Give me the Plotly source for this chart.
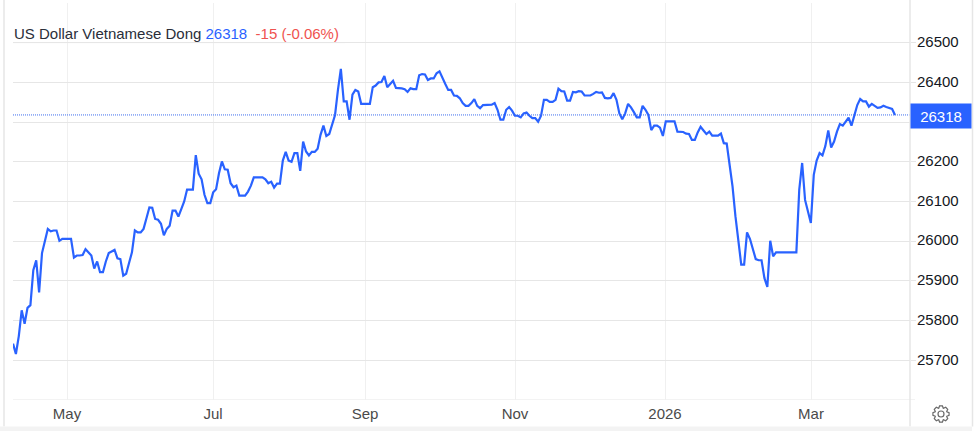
import math
import plotly.graph_objects as go

BLUE = "#2962FF"
title_text = "US Dollar Vietnamese Dong"
last_value = 26318
change_text = "-15 (-0.06%)"
y_ticks = [25700, 25800, 25900, 26000, 26100, 26200, 26300, 26400, 26500]
y_labels = [25700, 25800, 25900, 26000, 26100, 26200, None, 26400, 26500]
month_labels = ["May", "Jul", "Sep", "Nov", "2026", "Mar"]
month_frac = [54/897, 200/897, 352/897, 502/897, 652/897, 798/897]

values = [
 25742,25716,25761,25826,25792,25832,25839,25927,25952,25871,25970,26000,26031,26025,26027,26027,
 26001,26006,26006,26006,26006,25959,25964,25964,25965,25980,25972,25964,25931,25949,25922,25922,
 25949,25970,25974,25978,25957,25955,25913,25918,25945,25972,26027,26022,26022,26031,26058,26085,26084,
 26056,26054,26044,26015,26031,26039,26077,26077,26062,26081,26100,26130,26130,26130,26217,26170,
 26156,26117,26096,26096,26123,26131,26171,26201,26181,26180,26146,26136,26140,26115,26115,26115,
 26125,26140,26161,26161,26161,26161,26156,26146,26150,26135,26145,26145,26203,26225,26203,26200,
 26222,26222,26177,26251,26226,26216,26225,26225,26233,
 26268,26291,26265,26270,26297,26318,26381,26434,26352,26352,26306,26369,26381,26377,26346,26346,
 26346,26346,26388,26392,26400,26401,26416,26388,26396,26404,26386,26386,26385,26383,26376,26385,
 26383,26383,26418,26421,26420,26406,26410,26410,26423,26428,26410,26396,26381,26381,26367,26366,
 26360,26348,26341,26341,26348,26358,26341,26335,26343,26343,26343,26344,26348,26331,26306,26306,
 26331,26338,26329,26316,26316,26312,26322,26324,26316,26310,26310,26301,26316,26356,26356,26351,
 26351,26356,26384,26378,26377,26354,26354,26376,26375,26378,26377,26367,26367,26367,26371,26376,26374,
 26375,26361,26360,26361,26373,26356,26322,26307,26322,26346,26337,26325,26312,26312,26341,26331,
 26318,26280,
 26291,26291,26286,26265,26302,26302,26302,26302,26276,26276,26275,26271,26270,26255,26255,
 26274,26288,26279,26270,26276,26266,26266,26266,26271,26247,26246,26188,26138,26063,26004,
 25941,25941,26022,26006,25983,25955,25952,25952,25907,25885,26001,25962,25972,25972,25972,25972,
 25972,25972,25972,25972,26130,26197,26104,26075,26046,26167,26203,26222,26216,26240,26279,26236,
 26251,26276,26295,26291,26302,26311,26291,26314,26343,26358,26352,26352,26339,26346,26342,26336,
 26337,26341,26338,26336,26333,26318,
]
sessions = list(range(len(values)))

PLOT_L, PLOT_R, PLOT_T, PLOT_B = 13, 910, 3, 400
PW, PH = PLOT_R - PLOT_L, PLOT_B - PLOT_T
last_px = 895
x_max = (len(values) - 1) * PW / (last_px - PLOT_L)
month_ticks = [f * x_max for f in month_frac]


def gear_path(r_out=8.2, r_in=6.2, teeth=8):
    pts = []
    for i in range(teeth):
        a = 2 * math.pi * i / teeth
        w = math.pi / teeth
        for da, r in ((-w * 0.95, r_in), (-w * 0.45, r_out), (w * 0.45, r_out), (w * 0.95, r_in)):
            pts.append((r * math.cos(a + da), r * math.sin(a + da)))
    return "M" + " L".join(f"{x:.2f},{y:.2f}" for x, y in pts) + " Z"


fig = go.Figure()
fig.add_trace(go.Scatter(x=sessions, y=values, mode="lines",
                         line=dict(color=BLUE, width=2.2), hoverinfo="skip", showlegend=False))
fig.update_layout(
    width=975, height=431, autosize=False,
    margin=dict(l=PLOT_L, r=975 - PLOT_R, t=PLOT_T, b=431 - PLOT_B),
    paper_bgcolor="white", plot_bgcolor="white",
    font=dict(family="Liberation Sans, Arial, sans-serif", size=15, color="#131722"),
    xaxis=dict(range=[0, x_max], tickmode="array", tickvals=month_ticks, ticktext=month_labels,
               showgrid=True, gridcolor="#F0F0F0", gridwidth=1, zeroline=False, showline=False,
               ticks="", ticklabelstandoff=3, tickfont=dict(size=15, color="#4A4A4A")),
    yaxis=dict(range=[25600, 26600], side="right", tickmode="array", tickvals=y_ticks,
               ticktext=[str(v) if v else "" for v in y_labels],
               showgrid=True, gridcolor="#E6E6E6", gridwidth=1, zeroline=False, showline=False,
               ticks="outside", ticklen=5, tickcolor="#E6E6E6", ticklabelstandoff=-2, ticklabelshift=-1,
               tickfont=dict(size=15, color="#131722")),
    shapes=[
        dict(type="rect", xref="paper", x0=0, x1=(345 - PLOT_L) / PW, yref="paper", y0=(400 - 47) / PH, y1=(400 - 17) / PH,
             fillcolor="white", line=dict(width=0), layer="below"),
        dict(type="line", xref="paper", x0=0, x1=(345 - PLOT_L) / PW, yref="y", y0=26500, y1=26500,
             line=dict(color="#F3F3F3", width=1), layer="below"),
        dict(type="line", xref="paper", x0=0, x1=1, yref="y", y0=last_value, y1=last_value,
             line=dict(color="#3F6FEF", width=1, dash="1px,1px"), layer="above"),
        dict(type="line", xref="paper", x0=0, x1=(915 - PLOT_L) / PW, yref="y",
             y0=25600, y1=25600, line=dict(color="#E6E6E6", width=1), layer="below"),
        dict(type="line", xref="paper", x0=1, x1=1, yref="paper", y0=-26.5/PH, y1=1.01,
             line=dict(color="#E6E6E6", width=1.5)),
        dict(type="line", xref="paper", x0=-9/PW, x1=-9/PW, yref="paper", y0=-26.5/PH, y1=1.01,
             line=dict(color="#E6E6E6", width=1.5)),
        dict(type="line", xref="paper", x0=(972.5-13)/PW, x1=(972.5-13)/PW, yref="paper", y0=-26.5/PH, y1=1.01,
             line=dict(color="#E6E6E6", width=1.5)),
        dict(type="rect", xref="paper", x0=-13/PW, x1=62/PW + 1, yref="paper", y0=-31/PH, y1=-26.5/PH,
             fillcolor="#F3F3F3", line=dict(width=0)),
        dict(type="path", xsizemode="pixel", ysizemode="pixel", xref="paper", yref="paper",
             xanchor=(941 - PLOT_L) / PW, yanchor=(400 - 414) / PH, path=gear_path(),
             line=dict(color="#6A6A6A", width=1.2), fillcolor="rgba(0,0,0,0)"),
        dict(type="circle", xsizemode="pixel", ysizemode="pixel", xref="paper", yref="paper",
             xanchor=(941 - PLOT_L) / PW, yanchor=(400 - 414) / PH, x0=-3, x1=3, y0=-3, y1=3,
             line=dict(color="#6A6A6A", width=1.2)),
    ],
    annotations=[
        dict(xref="paper", yref="paper", x=-1 / PW, y=(400 - 33) / PH, xanchor="left", yanchor="middle",
             showarrow=False, align="left", borderpad=1,
             text=f"{title_text} <span style='color:{BLUE}'>{last_value}</span>  "
                  f"<span style='color:#EF5350'>{change_text}</span>",
             font=dict(size=15, color="#2A2E39")),
        dict(xref="paper", yref="y", x=1, y=last_value, xanchor="left", yanchor="middle", showarrow=False,
             text=str(last_value), width=60, height=24, borderpad=0, yshift=-1, bgcolor=BLUE, align="center", valign="middle",
             font=dict(size=15, color="white")),
    ],
)
fig.write_html("out.html", post_script="document.body.style.margin='0';document.body.style.overflow='hidden';",
               config={"displayModeBar": False})
